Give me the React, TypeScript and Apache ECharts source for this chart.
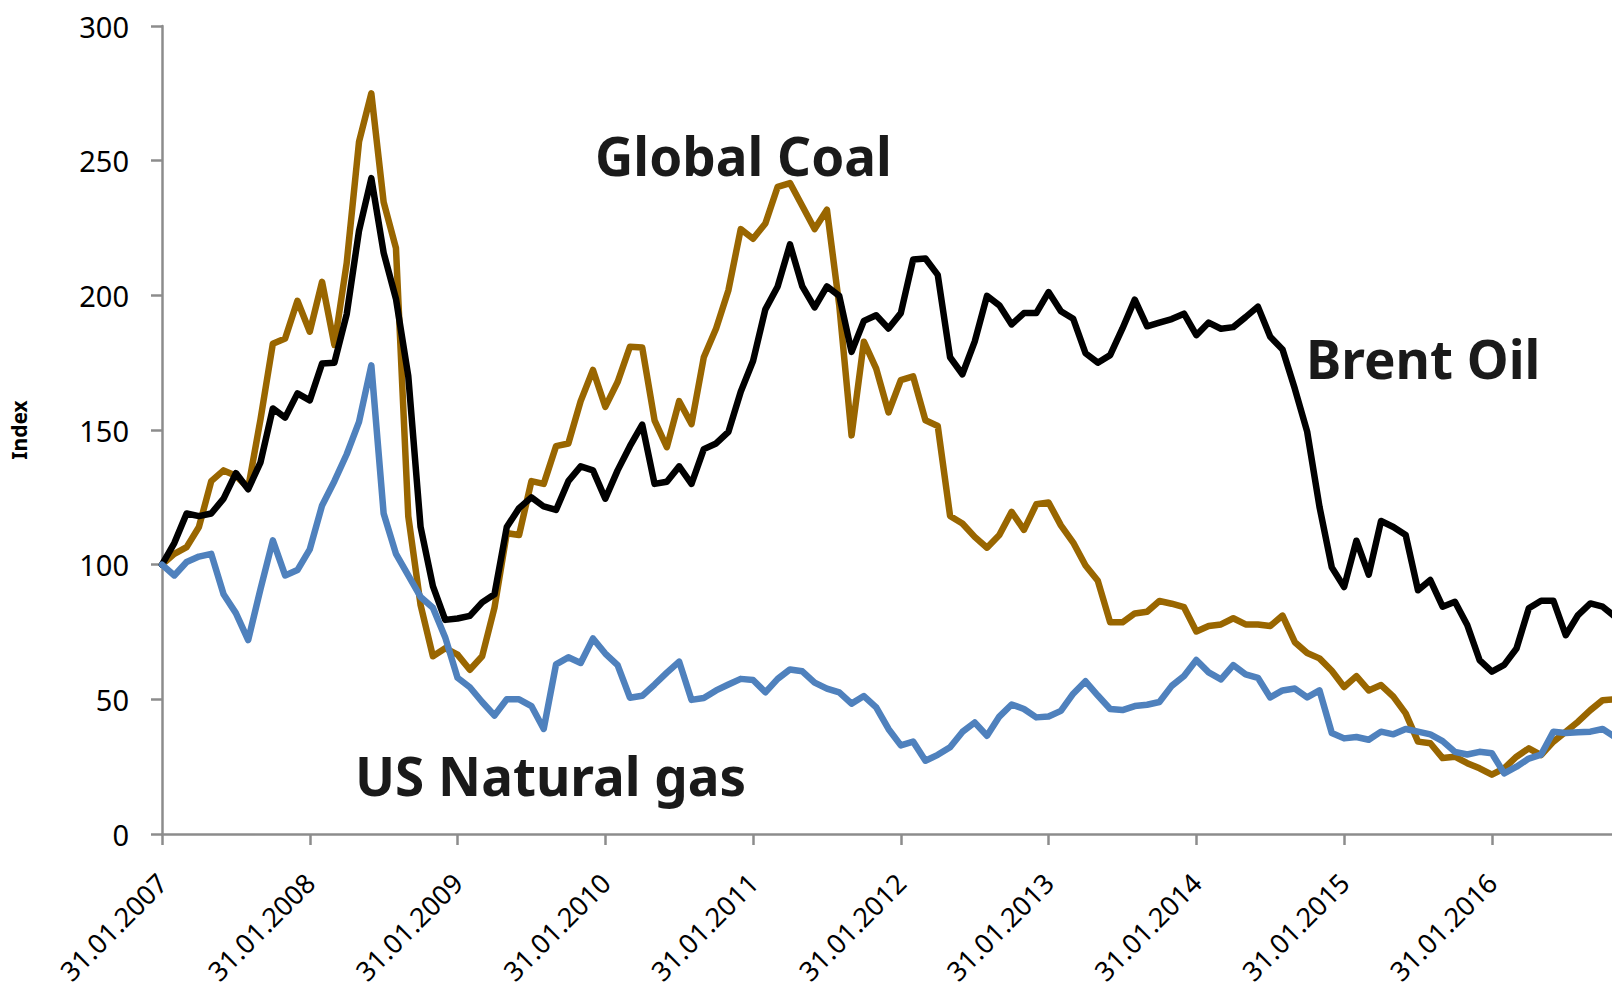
import React, { useEffect, useRef } from "react";
import * as echarts from "echarts";

const brentOil: number[] = [
  100, 108, 119, 118, 119, 124.5, 134, 128, 138, 158, 154.6, 163.6,
  161, 174.7, 175, 193, 224, 243.5, 215.8, 198.7, 170, 114, 92, 79.5,
  80, 81, 86, 89, 114, 121, 125, 121.6, 120.3, 131, 136.5, 135,
  124.5, 135, 144, 152, 130, 130.8, 136.5, 130, 142.9, 145, 149.3, 164.2,
  175.6, 194.8, 203.3, 218.9, 203.3, 195.5, 203.3, 199.8, 179, 190.5, 192.6, 187.7,
  193.4, 213.3, 213.7, 207.6, 177, 170.7, 182.8, 199.8, 196.3, 189.2, 193.4, 193.4,
  201.2, 194.1, 191.3, 178.5, 175, 177.8, 187.7, 198.4, 188.5, 189.9, 191.2, 193.2,
  185.2, 189.9, 187.6, 188.2, 191.9, 195.8, 184.6, 179.9, 165.3, 149.4, 121.5, 99,
  91.7, 108.9, 96.3, 116.2, 114, 111, 90.5, 94.3, 84.4, 86.2, 77.6, 64.6,
  60.3, 62.8, 68.9, 83.8, 86.6, 86.6, 73.8, 81.3, 85.6, 84.4, 80.7,
];

const globalCoal: number[] = [
  100, 104, 106.5, 114, 131, 135, 133, 128.5, 154, 182, 184, 198,
  186.5, 205, 181.6, 212, 257, 275, 234.6, 217.5, 118, 85, 66, 69,
  66.6, 61, 66, 84, 111.7, 111, 131, 130, 144, 145, 160.7, 172.3,
  158.6, 167.8, 180.9, 180.6, 153.6, 143.6, 160.7, 152.2, 177, 187.7, 201.9, 224.6,
  221, 226.7, 240.3, 241.7, 233.2, 224.6, 231.8, 196.3, 148, 182.8, 172.8, 156.5,
  168.5, 169.9, 153.6, 151.5, 118.1, 115.3, 110.3, 106.3, 111, 119.6, 112.9, 122.4,
  123.1, 114.6, 108.2, 99.7, 94, 78.6, 78.6, 81.9, 82.5, 86.5, 85.5, 84.2,
  75.2, 77.2, 77.8, 80.1, 77.8, 77.8, 77.2, 81.1, 71.2, 67.2, 65.2, 60.6,
  54.6, 58.6, 53.3, 55.3, 51, 44.8, 34.3, 33.7, 28.2, 28.7, 26.3, 24.4,
  22, 24.4, 28.7, 31.8, 29.3, 34.3, 38, 41.7, 46, 49.7, 50,
];

const usNaturalGas: number[] = [
  100, 96, 101, 103, 104, 89, 82, 72, 91, 109, 96, 98,
  105.7, 122, 131, 141, 153, 174, 119, 104, 96, 88, 84, 73,
  58, 54.5, 49, 44, 50, 50, 47.5, 39, 63, 65.6, 63.5, 72.6,
  67, 62.7, 50.6, 51.3, 55.5, 59.9, 64, 49.8, 50.5, 53.3, 55.5, 57.6,
  57.2, 52.6, 57.6, 61.1, 60.4, 56.2, 54, 52.6, 48.4, 51.2, 47, 39,
  32.9, 34.3, 27.2, 29.4, 32.2, 37.9, 41.4, 36.5, 43.6, 48.1, 46.4, 43.3,
  43.6, 45.7, 52.1, 56.7, 51.4, 46.4, 46, 47.5, 48, 49, 55, 58.7,
  64.6, 60, 57.4, 62.7, 59.3, 58, 50.7, 53.3, 54, 50.7, 53.3, 37.5,
  35.5, 36, 35, 38, 37, 39, 38, 37, 34.5, 30.5, 29.5, 30.5,
  30, 22.5, 25, 28, 29.5, 38, 37.5, 37.8, 38, 39, 36,
];

const seriesNames = ["Global Coal", "Brent Oil", "US Natural gas"];
const seriesColors = ["#996600", "#000000", "#4f81bd"];
const yTicks = { min: 0, max: 300, interval: 50 };

// month-end dates, 31.01.2007 onwards
const categories: string[] = (() => {
  const out: string[] = [];
  for (let i = 0; i < brentOil.length; i++) {
    const y = 2007 + Math.floor(i / 12);
    const m = i % 12;
    const last = new Date(Date.UTC(y, m + 1, 0)).getUTCDate();
    out.push(
      String(last).padStart(2, "0") + "." + String(m + 1).padStart(2, "0") + "." + y
    );
  }
  return out;
})();

const FONT = "'Noto Sans', 'Open Sans', sans-serif";

export default function App() {
  const ref = useRef<HTMLDivElement>(null);
  useEffect(() => {
    document.body.style.margin = "0";
    if (!ref.current) return;
    const chart = echarts.init(ref.current, null, { renderer: "svg" });
    const axisGray = "#8c8c8c";
    chart.setOption({
      animation: false,
      backgroundColor: "#ffffff",
      grid: {
        left: 162,
        top: 26,
        bottom: 158,
        right: -3,
        containLabel: false,
        outerBoundsMode: "none",
      },
      xAxis: {
        type: "category",
        data: categories,
        boundaryGap: false,
        axisLine: { show: true, lineStyle: { color: axisGray, width: 2.5 } },
        axisTick: { show: true, interval: 11, length: 11, inside: false, lineStyle: { color: axisGray, width: 2.5 } },
        axisLabel: {
          interval: 11,
          rotate: 45,
          margin: 44,
          fontSize: 27,
          fontFamily: FONT,
          color: "#000000",
        },
        splitLine: { show: false },
      },
      yAxis: {
        type: "value",
        min: yTicks.min,
        max: yTicks.max,
        interval: yTicks.interval,
        name: "Index",
        nameLocation: "middle",
        nameRotate: 90,
        nameGap: 133,
        nameTextStyle: { fontSize: 21, fontWeight: "bold", fontFamily: FONT, color: "#000000" },
        axisLine: { show: true, lineStyle: { color: axisGray, width: 2.5 } },
        axisTick: { show: true, length: 11, inside: false, lineStyle: { color: axisGray, width: 2.5 } },
        axisLabel: { fontSize: 29, fontFamily: FONT, color: "#000000", margin: 33 },
        splitLine: { show: false },
      },
      series: [globalCoal, brentOil, usNaturalGas].map((d, k) => ({
        name: seriesNames[k],
        type: "line",
        data: d,
        symbol: "none",
        lineStyle: { color: seriesColors[k], width: 6.5, join: "round", cap: "round" },
        itemStyle: { color: seriesColors[k] },
        z: 2 + k,
      })),
      graphic: [
        {
          type: "text",
          left: 595,
          top: 129,
          style: { text: "Global Coal", fontSize: 53, fontWeight: "bold", fontFamily: FONT, fill: "#1a1a1a" },
          z: 10,
        },
        {
          type: "text",
          left: 355,
          top: 749,
          style: { text: "US Natural gas", fontSize: 53, fontWeight: "bold", fontFamily: FONT, fill: "#1a1a1a" },
          z: 10,
        },
        {
          type: "text",
          left: 1306,
          top: 332,
          style: { text: "Brent Oil", fontSize: 53, fontWeight: "bold", fontFamily: FONT, fill: "#1a1a1a" },
          z: 10,
        },
      ],
    });
    return () => chart.dispose();
  }, []);
  return (
    <div
      ref={ref}
      style={{ position: "fixed", left: 0, top: 0, width: 1612, height: 992, background: "#fff" }}
    />
  );
}
